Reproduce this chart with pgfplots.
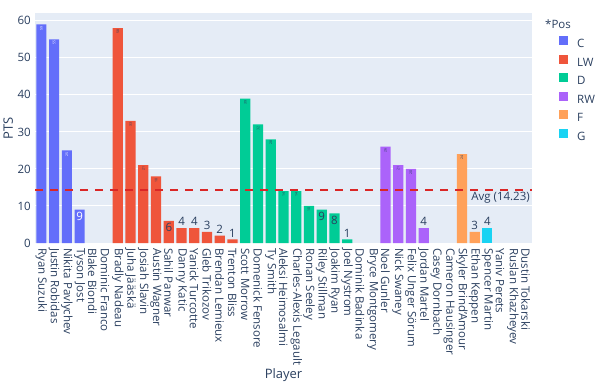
\documentclass[border=0pt]{standalone}
\usepackage{pgfplots}
\pgfplotsset{compat=1.18}
\usepackage{fontspec}
\setmainfont{Open Sans}
\definecolor{cC}{HTML}{636EFA}
\definecolor{cLW}{HTML}{EF553B}
\definecolor{cD}{HTML}{00CC96}
\definecolor{cRW}{HTML}{AB63FA}
\definecolor{cF}{HTML}{FFA15A}
\definecolor{cG}{HTML}{19D3F3}
\definecolor{bgc}{HTML}{E5ECF6}
\definecolor{txt}{HTML}{2A3F5F}
\definecolor{avgc}{RGB}{218,38,38}
\newcommand{\tinyf}{\fontsize{3.5bp}{4bp}\selectfont}
\newcommand{\tickf}{\fontsize{11.5bp}{13bp}\selectfont}
\begin{document}
\begin{tikzpicture}
\useasboundingbox (-35bp,-142bp) rectangle (564bp,243bp);
\begin{axis}[
  scale only axis, width=497bp, height=230bp,
  xmin=-0.5, xmax=38.5, ymin=0, ymax=62.1,
  axis background/.style={fill=bgc},
  axis line style={draw=none},
  major tick length=0pt,
  ymajorgrids, grid style={white, line width=1bp},
  ytick={0,10,...,60},
  xtick={0,...,38},
  xticklabels={Ryan Suzuki, Justin Robidas, Nikita Pavlychev, Tyson Jost, Blake Biondi, Dominic Franco, Bradly Nadeau, Juha Jääskä, Josiah Slavin, Austin Wagner, Sahil Panwar, Danny Katic, Yanick Turcotte, Gleb Trikozov, Brendan Lemieux, Trenton Bliss, Scott Morrow, Domenick Fensore, Ty Smith, Aleksi Heimosalmi, Charles-Alexis Legault, Ronan Seeley, Riley Stillman, Joakim Ryan, Joel Nystrom, Dominik Badinka, Bryce Montgomery, Noel Gunler, Nick Swaney, Felix Unger Sörum, Jordan Martel, Casey Dornbach, Cameron Hausinger, Skyler Brind'Amour, Ethan Keppen, Spencer Martin, Yaniv Perets, Ruslan Khazheyev, Dustin Tokarski},
  xticklabel style={rotate=-90, anchor=west, inner xsep=5bp, inner ysep=0pt, font=\tickf, text=txt},
  yticklabel style={anchor=east, inner sep=0pt, xshift=-4bp, font=\tickf, text=txt},
  /pgf/number format/assume math mode=true,
  xlabel={Player}, ylabel={PTS},
  xlabel style={at={(axis description cs:0.5,-0.574)}, anchor=center, font=\fontsize{13bp}{15bp}\selectfont, text=txt},
  ylabel style={at={(axis description cs:-0.054,0.5)}, anchor=center, font=\fontsize{13bp}{15bp}\selectfont, text=txt},
  legend image code/.code={\fill[#1] (0bp,-0.3bp) rectangle (9bp,8.5bp);},
  legend style={draw=none, fill=none, at={(axis description cs:1,1)}, anchor=north west, xshift=27bp, yshift=-23.3bp,
    font=\tickf, text=txt, inner sep=0pt, row sep=4bp,
    nodes={inner sep=0pt, text height=9bp, text depth=3bp},
    /tikz/every odd column/.append style={column sep=9bp}},
  legend cell align=left,
]
\addplot[ybar, bar width=0.8, bar shift=0pt, fill=cC, draw=none] coordinates {(0,59) (1,55) (2,25) (3,9)};
\addlegendentry{C}
\addplot[ybar, bar width=0.8, bar shift=0pt, fill=cLW, draw=none] coordinates {(6,58) (7,33) (8,21) (9,18) (10,6) (11,4) (12,4) (13,3) (14,2) (15,1)};
\addlegendentry{LW}
\addplot[ybar, bar width=0.8, bar shift=0pt, fill=cD, draw=none] coordinates {(16,39) (17,32) (18,28) (19,14) (20,14) (21,10) (22,9) (23,8) (24,1)};
\addlegendentry{D}
\addplot[ybar, bar width=0.8, bar shift=0pt, fill=cRW, draw=none] coordinates {(27,26) (28,21) (29,20) (30,4)};
\addlegendentry{RW}
\addplot[ybar, bar width=0.8, bar shift=0pt, fill=cF, draw=none] coordinates {(33,24) (34,3)};
\addlegendentry{F}
\addplot[ybar, bar width=0.8, bar shift=0pt, fill=cG, draw=none] coordinates {(35,4)};
\addlegendentry{G}
% average line
\addplot[forget plot, avgc, line width=2.2bp, dash pattern=on 8bp off 7bp] coordinates {(-0.5,14.23) (38.5,14.23)};
\node[anchor=north east, inner sep=2bp, font=\tickf, text=txt] at (axis cs:38.5,14.23) {Avg (14.23)};
% tiny inside labels, white
\addplot[forget plot, draw=none, mark=none, nodes near coords, point meta=explicit symbolic,
  nodes near coords style={rotate=90, anchor=east, font=\tinyf, text=white, inner sep=1.5bp}]
  coordinates {(0,59) [59] (1,55) [55] (2,25) [25]};
% tiny inside labels, dark
\addplot[forget plot, draw=none, mark=none, nodes near coords, point meta=explicit symbolic,
  nodes near coords style={rotate=90, anchor=east, font=\tinyf, text=txt, inner sep=1.5bp}]
  coordinates {(6,58) [58] (7,33) [33] (8,21) [21] (9,18) [18] (16,39) [39] (17,32) [32] (18,28) [28] (19,14) [14] (20,14) [14] (21,10) [10] (27,26) [26] (28,21) [21] (29,20) [20] (33,24) [24]};
% inside normal labels
\addplot[forget plot, draw=none, mark=none, nodes near coords, point meta=explicit symbolic,
  nodes near coords style={anchor=north, font=\tickf, text=white, inner sep=2.5bp}]
  coordinates {(3,9) [9]};
\addplot[forget plot, draw=none, mark=none, nodes near coords, point meta=explicit symbolic,
  nodes near coords style={anchor=north, font=\tickf, text=txt, inner sep=2.5bp}]
  coordinates {(10,6) [6] (22,9) [9] (23,8) [8]};
% outside labels
\addplot[forget plot, draw=none, mark=none, nodes near coords, point meta=explicit symbolic,
  nodes near coords style={anchor=south, font=\tickf, text=txt, inner sep=2bp}]
  coordinates {(11,4) [4] (12,4) [4] (13,3) [3] (14,2) [2] (15,1) [1] (24,1) [1] (30,4) [4] (34,3) [3] (35,4) [4]};
\end{axis}
\node[anchor=base west, font=\tickf, text=txt, inner sep=0pt] at (510bp,214.7bp) {*Pos};
\end{tikzpicture}
\end{document}
